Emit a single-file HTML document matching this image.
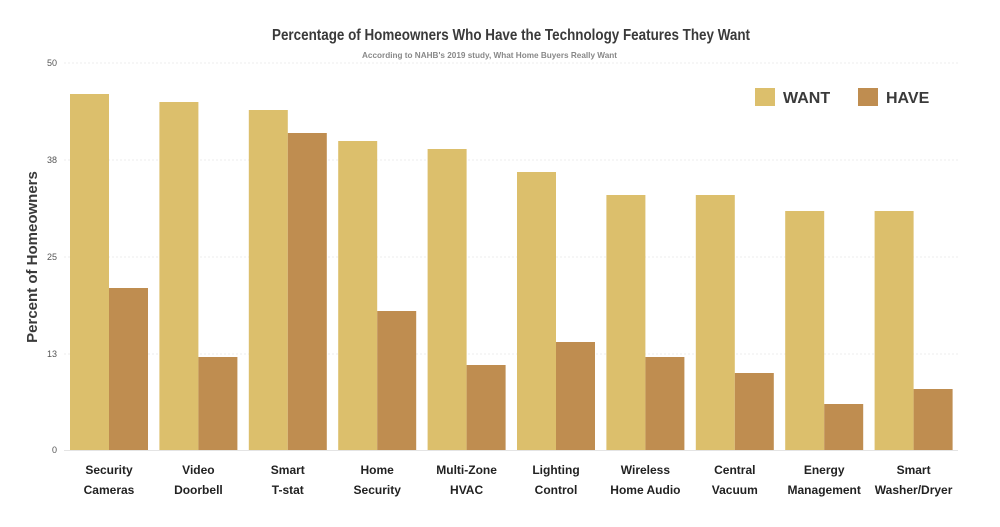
<!DOCTYPE html>
<html><head><meta charset="utf-8"><style>
html,body{margin:0;padding:0;background:#fff;}
svg{display:block;font-family:"Liberation Sans",sans-serif;}
</style></head><body>
<svg width="1000" height="527" viewBox="0 0 1000 527" xmlns="http://www.w3.org/2000/svg">
<text x="272" y="40" textLength="478" lengthAdjust="spacingAndGlyphs" font-size="16" font-weight="bold" fill="#3a3a3a">Percentage of Homeowners Who Have the Technology Features They Want</text>
<text x="362" y="58" textLength="255" lengthAdjust="spacingAndGlyphs" font-size="8.5" font-weight="bold" fill="#888">According to NAHB's 2019 study, What Home Buyers Really Want</text>
<g stroke="#eee" stroke-width="1" stroke-dasharray="2,2">
<line x1="64" x2="958" y1="63" y2="63"/><line x1="64" x2="958" y1="160" y2="160"/>
<line x1="64" x2="958" y1="257" y2="257"/><line x1="64" x2="958" y1="354" y2="354"/>
</g>
<line x1="64" x2="958" y1="450.5" y2="450.5" stroke="#e4e4e4"/>
<g font-size="9" fill="#555" text-anchor="end">
<text x="57" y="66">50</text><text x="57" y="163">38</text><text x="57" y="260">25</text><text x="57" y="357">13</text><text x="57" y="453">0</text>
</g>
<text transform="translate(37,257) rotate(-90)" text-anchor="middle" font-size="15" font-weight="bold" fill="#3a3a3a">Percent of Homeowners</text>
<g fill="#dcbf6c">
<rect x="70" y="94" width="39" height="356"/>
<rect x="159.4" y="102" width="39" height="348"/>
<rect x="248.8" y="110" width="39" height="340"/>
<rect x="338.2" y="141" width="39" height="309"/>
<rect x="427.6" y="149" width="39" height="301"/>
<rect x="517" y="172" width="39" height="278"/>
<rect x="606.4" y="195" width="39" height="255"/>
<rect x="695.8" y="195" width="39" height="255"/>
<rect x="785.2" y="211" width="39" height="239"/>
<rect x="874.6" y="211" width="39" height="239"/>
</g>
<g fill="#bf8d50">
<rect x="109" y="288" width="39" height="162"/>
<rect x="198.4" y="357" width="39" height="93"/>
<rect x="287.8" y="133" width="39" height="317"/>
<rect x="377.2" y="311" width="39" height="139"/>
<rect x="466.6" y="365" width="39" height="85"/>
<rect x="556" y="342" width="39" height="108"/>
<rect x="645.4" y="357" width="39" height="93"/>
<rect x="734.8" y="373" width="39" height="77"/>
<rect x="824.2" y="404" width="39" height="46"/>
<rect x="913.6" y="389" width="39" height="61"/>
</g>
<rect x="755" y="88" width="20" height="18" fill="#dcbf6c"/>
<text x="783" y="103" font-size="16" font-weight="bold" fill="#3a3a3a">WANT</text>
<rect x="858" y="88" width="20" height="18" fill="#bf8d50"/>
<text x="886" y="103" font-size="16" font-weight="bold" fill="#3a3a3a">HAVE</text>
<g font-size="12" font-weight="bold" fill="#222" text-anchor="middle">
<text x="109" y="474">Security</text><text x="109" y="494">Cameras</text>
<text x="198.4" y="474">Video</text><text x="198.4" y="494">Doorbell</text>
<text x="287.8" y="474">Smart</text><text x="287.8" y="494">T-stat</text>
<text x="377.2" y="474">Home</text><text x="377.2" y="494">Security</text>
<text x="466.6" y="474">Multi-Zone</text><text x="466.6" y="494">HVAC</text>
<text x="556" y="474">Lighting</text><text x="556" y="494">Control</text>
<text x="645.4" y="474">Wireless</text><text x="645.4" y="494">Home Audio</text>
<text x="734.8" y="474">Central</text><text x="734.8" y="494">Vacuum</text>
<text x="824.2" y="474">Energy</text><text x="824.2" y="494">Management</text>
<text x="913.6" y="474">Smart</text><text x="913.6" y="494">Washer/Dryer</text>
</g>
</svg>
</body></html>
